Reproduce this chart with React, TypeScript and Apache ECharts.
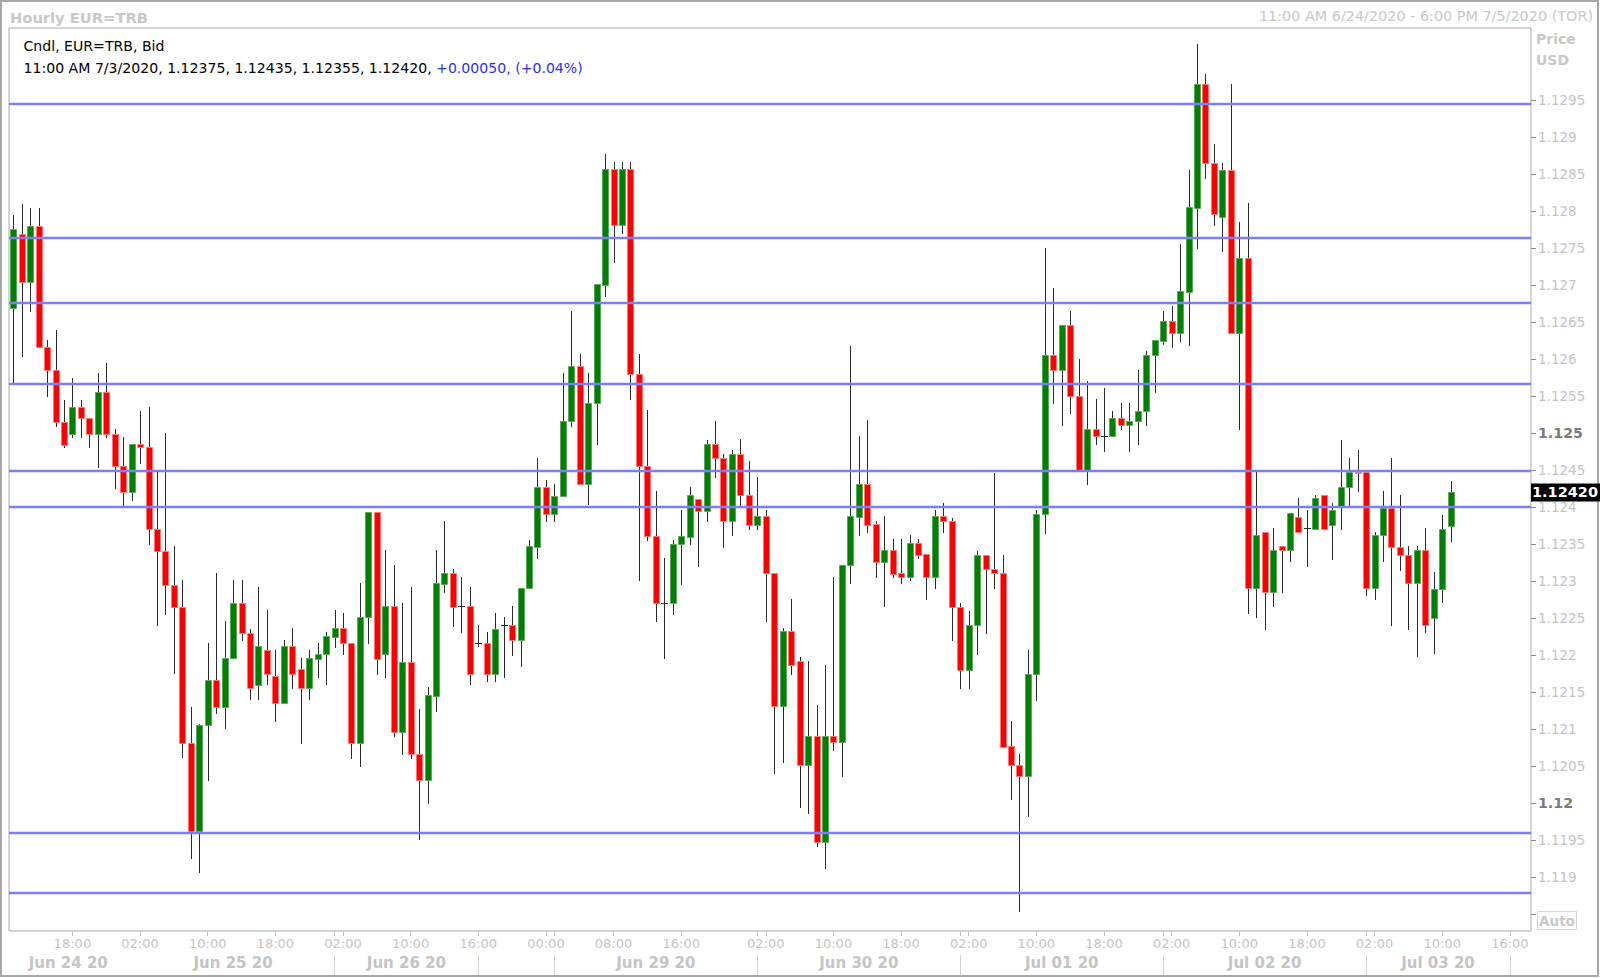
import React, { useEffect, useRef } from 'react';
import * as echarts from 'echarts';

// ---- Hourly EUR=TRB candles (slot index = position on the hourly axis) ----
const opens = [
  1.12669, 1.12770, 1.12704, 1.12780, 1.12616, 1.12585, 1.12515, 1.12499, 1.12535, 1.12520,
  1.12499, 1.12556, 1.12499, 1.12456, 1.12421, 1.12485, 1.12481, 1.12371, 1.12341, 1.12295,
  1.12265, 1.12081, 1.11962, 1.12106, 1.12167, 1.12130, 1.12196, 1.12271, 1.12230, 1.12160,
  1.12207, 1.12172, 1.12135, 1.12212, 1.12181, 1.12155, 1.12195, 1.12201, 1.12225, 1.12237,
  1.12217, 1.12081, 1.12251, 1.12393, 1.12201, 1.12266, 1.12096, 1.12191, 1.12066, 1.12031,
  1.12145, 1.12296, 1.12311, 1.12266, 1.12266, 1.12217, 1.12217, 1.12175, 1.12241, 1.12241,
  1.12220, 1.12291, 1.12346, 1.12427, 1.12391, 1.12415, 1.12516, 1.12591, 1.12431, 1.12541,
  1.12701, 1.12857, 1.12781, 1.12857, 1.12580, 1.12456, 1.12361, 1.12270, 1.12270, 1.12350,
  1.12360, 1.12411, 1.12395, 1.12486, 1.12467, 1.12382, 1.12472, 1.12417, 1.12376, 1.12388,
  1.12311, 1.12131, 1.12232, 1.12192, 1.12051, 1.12091, 1.11947, 1.12091, 1.12082, 1.12322,
  1.12387, 1.12432, 1.12377, 1.12326, 1.12342, 1.12311, 1.12305, 1.12351, 1.12337, 1.12305,
  1.12388, 1.12381, 1.12265, 1.12180, 1.12241, 1.12336, 1.12316, 1.12311, 1.12077, 1.12051,
  1.12037, 1.12175, 1.12391, 1.12606, 1.12586, 1.12646, 1.12551, 1.12451, 1.12506, 1.12496,
  1.12496, 1.12521, 1.12511, 1.12516, 1.12530, 1.12606, 1.12625, 1.12652, 1.12636, 1.12691,
  1.12805, 1.12972, 1.12866, 1.12792, 1.12856, 1.12636, 1.12737, 1.12291, 1.12367, 1.12286,
  1.12347, 1.12342, 1.12387, 1.12372, 1.12371, 1.12417, 1.12376, 1.12401, 1.12427, 1.12448,
  1.12447, 1.12291, 1.12362, 1.12399, 1.12346, 1.12336, 1.12297, 1.12342, 1.12250, 1.12290,
  1.12375,
];
const highs = [
  1.12795, 1.12810, 1.12805, 1.12805, 1.12626, 1.12640, 1.12545, 1.12575, 1.12545, 1.12521,
  1.12581, 1.12595, 1.12506, 1.12495, 1.12485, 1.12530, 1.12535, 1.12447, 1.12500, 1.12347,
  1.12302, 1.12130, 1.12107, 1.12216, 1.12311, 1.12246, 1.12302, 1.12302, 1.12235, 1.12292,
  1.12261, 1.12207, 1.12221, 1.12237, 1.12196, 1.12207, 1.12217, 1.12231, 1.12261, 1.12257,
  1.12217, 1.12297, 1.12393, 1.12393, 1.12342, 1.12322, 1.12271, 1.12292, 1.12127, 1.12157,
  1.12342, 1.12382, 1.12316, 1.12306, 1.12292, 1.12241, 1.12231, 1.12257, 1.12251, 1.12266,
  1.12291, 1.12356, 1.12466, 1.12437, 1.12432, 1.12581, 1.12666, 1.12607, 1.12581, 1.12702,
  1.12877, 1.12867, 1.12867, 1.12867, 1.12607, 1.12531, 1.12422, 1.12331, 1.12356, 1.12396,
  1.12427, 1.12411, 1.12491, 1.12517, 1.12472, 1.12478, 1.12492, 1.12462, 1.12441, 1.12396,
  1.12311, 1.12237, 1.12276, 1.12197, 1.12192, 1.12132, 1.12186, 1.12306, 1.12322, 1.12618,
  1.12496, 1.12518, 1.12382, 1.12388, 1.12357, 1.12357, 1.12362, 1.12357, 1.12337, 1.12396,
  1.12406, 1.12386, 1.12270, 1.12260, 1.12341, 1.12336, 1.12446, 1.12336, 1.12111, 1.12067,
  1.12207, 1.12396, 1.12750, 1.12696, 1.12646, 1.12665, 1.12601, 1.12571, 1.12546, 1.12561,
  1.12530, 1.12541, 1.12541, 1.12586, 1.12611, 1.12626, 1.12666, 1.12672, 1.12756, 1.12856,
  1.13026, 1.12986, 1.12891, 1.12866, 1.12972, 1.12786, 1.12811, 1.12448, 1.12367, 1.12372,
  1.12347, 1.12392, 1.12412, 1.12396, 1.12417, 1.12417, 1.12406, 1.12491, 1.12467, 1.12477,
  1.12448, 1.12367, 1.12422, 1.12467, 1.12417, 1.12347, 1.12347, 1.12372, 1.12312, 1.12389,
  1.12435,
];
const lows = [
  1.12570, 1.12605, 1.12665, 1.12616, 1.12550, 1.12510, 1.12481, 1.12495, 1.12495, 1.12481,
  1.12455, 1.12495, 1.12426, 1.12400, 1.12410, 1.12460, 1.12350, 1.12241, 1.12256, 1.12176,
  1.12062, 1.11926, 1.11907, 1.12031, 1.12122, 1.12101, 1.12196, 1.12220, 1.12141, 1.12141,
  1.12161, 1.12111, 1.12135, 1.12155, 1.12081, 1.12141, 1.12171, 1.12161, 1.12211, 1.12201,
  1.12061, 1.12050, 1.12216, 1.12175, 1.12171, 1.12090, 1.12066, 1.12061, 1.11952, 1.12000,
  1.12125, 1.12286, 1.12240, 1.12231, 1.12161, 1.12212, 1.12165, 1.12165, 1.12170, 1.12200,
  1.12185, 1.12291, 1.12331, 1.12381, 1.12381, 1.12415, 1.12510, 1.12431, 1.12405, 1.12485,
  1.12686, 1.12731, 1.12771, 1.12546, 1.12301, 1.12356, 1.12246, 1.12196, 1.12256, 1.12296,
  1.12350, 1.12321, 1.12381, 1.12441, 1.12346, 1.12362, 1.12402, 1.12371, 1.12371, 1.12246,
  1.12041, 1.12056, 1.12175, 1.11995, 1.11987, 1.11942, 1.11912, 1.12072, 1.12037, 1.12297,
  1.12362, 1.12366, 1.12305, 1.12266, 1.12305, 1.12297, 1.12301, 1.12331, 1.12276, 1.12291,
  1.12366, 1.12220, 1.12155, 1.12155, 1.12201, 1.12230, 1.12291, 1.12076, 1.12005, 1.11854,
  1.11982, 1.12140, 1.12365, 1.12541, 1.12511, 1.12527, 1.12451, 1.12431, 1.12485, 1.12476,
  1.12496, 1.12506, 1.12476, 1.12486, 1.12511, 1.12556, 1.12621, 1.12616, 1.12625, 1.12620,
  1.12750, 1.12845, 1.12781, 1.12746, 1.12636, 1.12506, 1.12257, 1.12252, 1.12236, 1.12266,
  1.12286, 1.12327, 1.12367, 1.12320, 1.12371, 1.12371, 1.12330, 1.12371, 1.12401, 1.12422,
  1.12281, 1.12276, 1.12327, 1.12241, 1.12315, 1.12236, 1.12199, 1.12231, 1.12203, 1.12272,
  1.12355,
];
const closes = [
  1.12776, 1.12704, 1.12780, 1.12616, 1.12585, 1.12515, 1.12484, 1.12535, 1.12520, 1.12499,
  1.12556, 1.12499, 1.12456, 1.12421, 1.12485, 1.12481, 1.12371, 1.12341, 1.12295, 1.12265,
  1.12081, 1.11962, 1.12106, 1.12167, 1.12130, 1.12196, 1.12271, 1.12230, 1.12155, 1.12212,
  1.12175, 1.12135, 1.12212, 1.12175, 1.12155, 1.12196, 1.12202, 1.12226, 1.12237, 1.12216,
  1.12081, 1.12252, 1.12393, 1.12195, 1.12266, 1.12096, 1.12191, 1.12066, 1.12031, 1.12146,
  1.12297, 1.12311, 1.12265, 1.12266, 1.12175, 1.12217, 1.12175, 1.12236, 1.12241, 1.12220,
  1.12291, 1.12347, 1.12427, 1.12391, 1.12415, 1.12516, 1.12591, 1.12431, 1.12541, 1.12702,
  1.12857, 1.12781, 1.12857, 1.12580, 1.12456, 1.12361, 1.12270, 1.12270, 1.12350, 1.12361,
  1.12416, 1.12395, 1.12486, 1.12466, 1.12382, 1.12472, 1.12416, 1.12376, 1.12388, 1.12311,
  1.12131, 1.12232, 1.12186, 1.12051, 1.12091, 1.11947, 1.12091, 1.12082, 1.12322, 1.12388,
  1.12432, 1.12376, 1.12326, 1.12342, 1.12310, 1.12305, 1.12351, 1.12336, 1.12305, 1.12388,
  1.12382, 1.12265, 1.12180, 1.12241, 1.12336, 1.12316, 1.12311, 1.12076, 1.12051, 1.12037,
  1.12175, 1.12391, 1.12606, 1.12586, 1.12646, 1.12551, 1.12451, 1.12506, 1.12496, 1.12496,
  1.12521, 1.12511, 1.12516, 1.12530, 1.12606, 1.12626, 1.12652, 1.12636, 1.12692, 1.12806,
  1.12972, 1.12866, 1.12796, 1.12856, 1.12636, 1.12737, 1.12291, 1.12362, 1.12286, 1.12342,
  1.12342, 1.12392, 1.12367, 1.12372, 1.12412, 1.12371, 1.12396, 1.12427, 1.12448, 1.12446,
  1.12291, 1.12362, 1.12399, 1.12346, 1.12336, 1.12297, 1.12342, 1.12241, 1.12290, 1.12370,
  1.12420,
];

// Horizontal support / resistance levels
const levelLines = [1.12946, 1.12764, 1.12676, 1.12567, 1.1245, 1.124, 1.1196, 1.11879];

// Axis layout data
const slotCount = 180;
const timeTickSlots = [7, 15, 23, 31, 39, 47, 55, 63, 71, 79, 89, 97, 105, 113, 121, 129, 137, 145, 153, 161, 169, 177];
const timeTickLabels = ['18:00', '02:00', '10:00', '18:00', '02:00', '10:00', '16:00', '00:00', '08:00', '16:00', '02:00',
  '10:00', '18:00', '02:00', '10:00', '18:00', '02:00', '10:00', '18:00', '02:00', '10:00', '16:00'];
const daySeparatorSlots = [38, 55, 64, 88, 112, 136, 160, 177];
const dateLabelSlots = [6.5, 26, 46.5, 76, 100, 124, 148, 168.5];
const dateLabels = ['Jun 24 20', 'Jun 25 20', 'Jun 26 20', 'Jun 29 20', 'Jun 30 20', 'Jul 01 20', 'Jul 02 20', 'Jul 03 20'];
const yTickValues = [1.1185, 1.119, 1.1195, 1.12, 1.1205, 1.121, 1.1215, 1.122, 1.1225, 1.123, 1.1235, 1.124,
  1.1245, 1.125, 1.1255, 1.126, 1.1265, 1.127, 1.1275, 1.128, 1.1285, 1.129, 1.1295];
const yLabelValues = [1.119, 1.1195, 1.12, 1.1205, 1.121, 1.1215, 1.122, 1.1225, 1.123, 1.1235, 1.124,
  1.1245, 1.125, 1.1255, 1.126, 1.1265, 1.127, 1.1275, 1.128, 1.1285, 1.129, 1.1295];
const boldYLabels = [1.12, 1.125];
const yMin = 1.11827;
const yMax = 1.13048;

const chartTitle = 'Hourly EUR=TRB';
const rangeText = '11:00 AM 6/24/2020 - 6:00 PM 7/5/2020 (TOR)';
const seriesName = 'Cndl, EUR=TRB, Bid';
const lastTime = '11:00 AM 7/3/2020';

const FONT = '"DejaVu Sans", Verdana, sans-serif';
const GRAY = '#c4c4c4';

function buildOption() {
  const candles = opens.map((o, i) => [i, o, closes[i], lows[i], highs[i]]);
  const last = closes.length - 1;
  const change = closes[last] - closes[last - 1];
  const pct = (change / closes[last - 1]) * 100;
  const sign = change >= 0 ? '+' : '-';
  const headerA = `${lastTime}, ${opens[last].toFixed(5)}, ${highs[last].toFixed(5)}, ${lows[last].toFixed(5)}, ${closes[last].toFixed(5)}, `;
  const headerB = `${sign}${Math.abs(change).toFixed(5)}, (${sign}${Math.abs(pct).toFixed(2)}%)`;

  const renderItem = (params: any, api: any) => {
    const i = api.value(0);
    const o = api.value(1);
    const c = api.value(2);
    const l = api.value(3);
    const h = api.value(4);
    const pO = api.coord([i, o]);
    const pC = api.coord([i, c]);
    const pL = api.coord([i, l]);
    const pH = api.coord([i, h]);
    const xc = Math.round(pO[0]) + 0.5;
    const half = 3;
    const top = Math.round(Math.min(pO[1], pC[1])) + 0.5;
    const bot = Math.round(Math.max(pO[1], pC[1])) + 0.5;
    const up = c > o;
    const flat = Math.abs(c - o) < 1e-9;
    const children: any[] = [
      {
        type: 'line',
        shape: { x1: xc, y1: Math.round(pH[1]), x2: xc, y2: Math.round(pL[1]) + 1 },
        style: { stroke: '#2b2b2b', lineWidth: 1 },
      },
    ];
    if (flat || bot - top < 1) {
      children.push({
        type: 'line',
        shape: { x1: xc - half - 0.5, y1: top, x2: xc + half + 0.5, y2: top },
        style: { stroke: flat ? '#2b2b2b' : up ? '#008000' : '#ff0000', lineWidth: 1 },
      });
    } else {
      children.push({
        type: 'rect',
        shape: { x: xc - half, y: top, width: half * 2, height: bot - top },
        style: { fill: up ? '#008000' : '#ff0000', stroke: up ? '#5aa85a' : '#ff7676', lineWidth: 1 },
      });
    }
    return { type: 'group', children };
  };

  const timeMap: Record<string, string> = {};
  timeTickSlots.forEach((s, k) => (timeMap[String(s)] = timeTickLabels[k]));
  const dateMap: Record<string, string> = {};
  dateLabelSlots.forEach((s, k) => (dateMap[String(s)] = dateLabels[k]));

  return {
    animation: false,
    backgroundColor: '#ffffff',
    grid: {
      left: 9,
      top: 28,
      width: 1522,
      height: 903,
      show: true,
      borderColor: '#a8a8a8',
      borderWidth: 1,
      backgroundColor: '#ffffff',
    },
    xAxis: [
      {
        type: 'value',
        min: -0.5,
        max: slotCount - 0.5,
        position: 'bottom',
        axisLine: { show: false, onZero: false },
        splitLine: { show: false },
        axisTick: {
          show: true,
          customValues: [...timeTickSlots, ...daySeparatorSlots],
          length: 5,
          lineStyle: { color: '#c0c0c0' },
        },
        axisLabel: {
          customValues: timeTickSlots,
          formatter: (v: number) => timeMap[String(v)] ?? '',
          color: GRAY,
          fontSize: 13,
          fontFamily: FONT,
          margin: 6,
        },
      },
      {
        type: 'value',
        min: -0.5,
        max: slotCount - 0.5,
        position: 'bottom',
        offset: 24,
        axisLine: { show: false, onZero: false },
        splitLine: { show: false },
        axisTick: {
          show: true,
          customValues: daySeparatorSlots,
          length: 20,
          lineStyle: { color: '#d4d4d4' },
        },
        axisLabel: {
          customValues: dateLabelSlots,
          formatter: (v: number) => dateMap[String(v)] ?? '',
          color: GRAY,
          fontSize: 15,
          fontWeight: 'bold',
          fontFamily: FONT,
          margin: 0,
        },
      },
    ],
    yAxis: {
      type: 'value',
      position: 'right',
      min: yMin,
      max: yMax,
      axisLine: { show: false, onZero: false },
      splitLine: { show: false },
      axisTick: {
        show: true,
        customValues: yTickValues,
        length: 5,
        lineStyle: { color: '#8c8c8c' },
      },
      axisLabel: {
        customValues: yLabelValues,
        margin: 7,
        color: GRAY,
        fontSize: 13.5,
        fontFamily: FONT,
        formatter: (v: number) => {
          const s = String(parseFloat(v.toFixed(5)));
          return boldYLabels.some((b) => Math.abs(b - v) < 1e-7) ? `{b|${s}}` : s;
        },
        rich: {
          b: { fontWeight: 'bold', color: '#7a7a7a', fontSize: 14.2, fontFamily: FONT },
        },
      },
    },
    series: [
      {
        type: 'custom',
        name: seriesName,
        xAxisIndex: 0,
        yAxisIndex: 0,
        data: candles,
        encode: { x: 0, y: [1, 2, 3, 4] },
        renderItem,
        markLine: {
          silent: true,
          precision: 5,
          symbol: ['none', 'none'],
          animation: false,
          label: { show: false },
          lineStyle: { color: '#7d7dfa', width: 2.4, type: 'solid' },
          data: [
            ...levelLines.map((v) => ({ yAxis: v })),
            {
              yAxis: closes[last],
              lineStyle: { color: 'rgba(0,0,0,0)', width: 0 },
              label: {
                show: true,
                position: 'end',
                distance: 0,
                formatter: closes[last].toFixed(5),
                backgroundColor: '#000000',
                color: '#ffffff',
                opacity: 1,
                fontWeight: 'bold',
                fontSize: 14.5,
                fontFamily: FONT,
                padding: [2, 2, 1, 1],
              },
            },
          ],
        },
      },
    ],
    graphic: [
      {
        type: 'rect',
        silent: true,
        shape: { x: 1, y: 1, width: 1597, height: 975 },
        style: { fill: 'none', stroke: '#a8a8a8', lineWidth: 2 },
      },
      {
        type: 'text',
        silent: true,
        x: 10,
        y: 17,
        style: { text: chartTitle, fill: '#c8c8c8', fontSize: 14.7, fontWeight: 'bold', fontFamily: FONT, align: 'left', verticalAlign: 'middle' },
      },
      {
        type: 'text',
        silent: true,
        x: 1593,
        y: 16,
        style: { text: rangeText, fill: '#c8c8c8', fontSize: 14.4, fontFamily: FONT, align: 'right', verticalAlign: 'middle' },
      },
      {
        type: 'text',
        silent: true,
        x: 23.5,
        y: 46,
        style: { text: seriesName, fill: '#000000', fontSize: 14.1, fontFamily: FONT, align: 'left', verticalAlign: 'middle' },
      },
      {
        type: 'text',
        silent: true,
        x: 23.5,
        y: 67.5,
        style: {
          text: `{a|${headerA}}{b|${headerB}}`,
          fontSize: 14.1,
          fontFamily: FONT,
          align: 'left',
          verticalAlign: 'middle',
          rich: {
            a: { fill: '#000000', fontSize: 14.1, fontFamily: FONT },
            b: { fill: '#2f2ff0', fontSize: 14.1, fontFamily: FONT },
          },
        },
      },
      {
        type: 'text',
        silent: true,
        x: 1536,
        y: 39,
        style: { text: 'Price', fill: '#c8c8c8', fontSize: 14, fontWeight: 'bold', fontFamily: FONT, align: 'left', verticalAlign: 'middle' },
      },
      {
        type: 'text',
        silent: true,
        x: 1536,
        y: 60,
        style: { text: 'USD', fill: '#c8c8c8', fontSize: 14, fontWeight: 'bold', fontFamily: FONT, align: 'left', verticalAlign: 'middle' },
      },
      {
        type: 'rect',
        silent: true,
        shape: { x: 1537.5, y: 911.5, width: 39, height: 18 },
        style: { fill: '#ffffff', stroke: '#d6d6d6', lineWidth: 1 },
      },
      {
        type: 'text',
        silent: true,
        x: 1557,
        y: 921,
        style: { text: 'Auto', fill: '#c8c8c8', fontSize: 13.5, fontWeight: 'bold', fontFamily: FONT, align: 'center', verticalAlign: 'middle' },
      },
    ],
  };
}

export default function App() {
  const ref = useRef<HTMLDivElement>(null);
  useEffect(() => {
    document.body.style.margin = '0';
    const chart = echarts.init(ref.current as HTMLDivElement, undefined, { renderer: 'svg' });
    chart.setOption(buildOption() as any);
    return () => {
      chart.dispose();
    };
  }, []);
  return <div ref={ref} style={{ width: 1600, height: 978, background: '#ffffff' }} />;
}
